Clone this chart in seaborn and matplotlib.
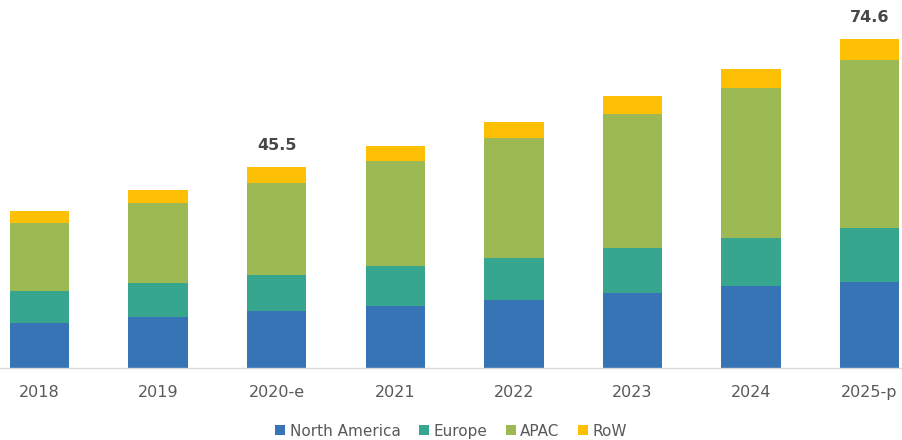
import matplotlib
matplotlib.use("Agg")
import matplotlib.pyplot as plt
import seaborn as sns
import pandas as pd
import numpy as np
from matplotlib.patches import Patch

years = ["2018", "2019", "2020-e", "2021", "2022", "2023", "2024", "2025-p"]
north_america = [10.3, 11.6, 13.0, 14.1, 15.4, 17.0, 18.5, 19.5]
europe = [7.2, 7.8, 8.1, 9.1, 9.6, 10.3, 10.9, 12.2]
apac = [15.5, 18.1, 20.8, 23.8, 27.1, 30.4, 34.1, 38.2]
row = [2.7, 3.0, 3.6, 3.4, 3.8, 4.1, 4.3, 4.7]
labelled = {"2020-e": "45.5", "2025-p": "74.6"}

series_names = ["North America", "Europe", "APAC", "RoW"]
colors = ["#3674B5", "#37A68E", "#9DB953", "#FDC004"]

sns.set_theme(style="white")
plt.rcParams["font.family"] = ["DejaVu Sans"]

df = pd.DataFrame({"year": years, "North America": north_america,
                   "Europe": europe, "APAC": apac, "RoW": row})
cum = df[series_names].cumsum(axis=1)

fig = plt.figure(figsize=(9.02, 4.40), dpi=100)
ax = fig.add_axes([0, 72 / 440, 1, 368 / 440])

# draw from the top layer down so stacked look is achieved
for name, col in zip(reversed(series_names), reversed(colors)):
    sub = pd.DataFrame({"year": years, "v": cum[name].values})
    sns.barplot(data=sub, x="year", y="v", order=years, color=col,
                width=0.5, saturation=1, ax=ax, edgecolor="none")

totals = cum["RoW"].values
for i, y in enumerate(years):
    if y in labelled:
        ax.text(i, totals[i] + 3.3, labelled[y], ha="center", va="bottom",
                fontsize=11.5, fontweight="bold", color="#474747")

ax.set_xlim(-0.333, 7.273)
ax.set_ylim(0, 83.5)
ax.set_xlabel("")
ax.set_ylabel("")
ax.set_yticks([])
for s in ["top", "right", "left"]:
    ax.spines[s].set_visible(False)
ax.spines["bottom"].set_color("#D9D9D9")
ax.spines["bottom"].set_linewidth(1)
ax.tick_params(axis="x", length=0, pad=12, labelsize=11.5, labelcolor="#595959")

handles = [Patch(facecolor=c, edgecolor="none", label=n) for n, c in zip(series_names, colors)]
fig.legend(handles=handles, loc="center", bbox_to_anchor=(0.5, 9 / 440 + 0.0),
           ncol=4, frameon=False, fontsize=11, handlelength=0.65, handleheight=0.65,
           handletextpad=0.3, columnspacing=1.2, labelcolor="#595959")

fig.savefig("out.png", dpi=100)
